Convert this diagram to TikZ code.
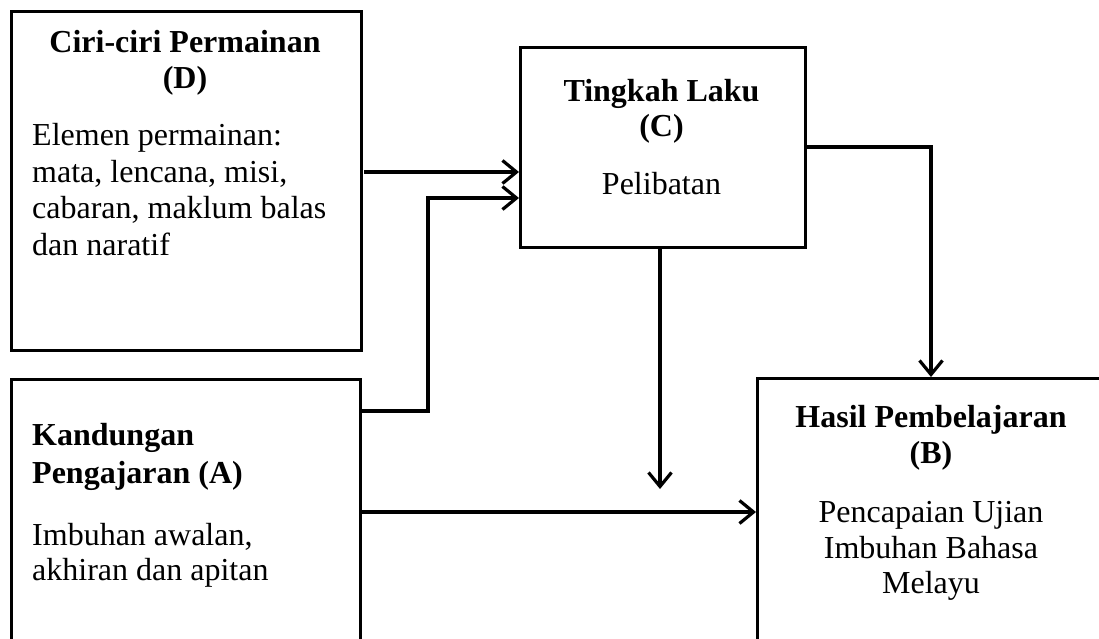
\documentclass[tikz,border=0pt]{standalone}
\usepackage{fontspec}
\setmainfont{Liberation Serif}
\usetikzlibrary{arrows.meta}
\begin{document}
\begin{tikzpicture}[x=1pt,y=-1pt,
  box/.style={draw,line width=2.6pt,rectangle,anchor=north west,inner sep=0pt},
  arr/.style={line width=3.2pt,-{Straight Barb[length=14pt,width=23pt,line width=3.2pt]}},
  ttl/.style={font=\fontsize{32}{36}\selectfont\bfseries,inner sep=0pt,anchor=base},
  txt/.style={font=\fontsize{32}{36}\selectfont,inner sep=0pt,anchor=base},
]
\useasboundingbox (0,0) rectangle (1099,638);
\clip (0,0) rectangle (1099,638);

% boxes
\node[box,minimum width=350pt,minimum height=339pt] (D) at (10,10) {};
\node[box,minimum width=285pt,minimum height=200pt] (C) at (519,46) {};
\node[box,minimum width=349pt,minimum height=330pt] (A) at (10,378) {};
\node[box,minimum width=350pt,minimum height=330pt] (B) at (756,377) {};

% texts D
\node[ttl] (Dt1) at (185,52) {Ciri-ciri Permainan};
\node[ttl] (Dt2) at (185,88) {(D)};
\node[txt,anchor=base west] (Db1) at (32,145) {Elemen permainan:};
\node[txt,anchor=base west] (Db2) at (32,182) {mata, lencana, misi,};
\node[txt,anchor=base west] (Db3) at (32,218) {cabaran, maklum balas};
\node[txt,anchor=base west] (Db4) at (32,255) {dan naratif};

% texts C
\node[ttl] (Ct1) at (661.5,101) {Tingkah Laku};
\node[ttl] (Ct2) at (661.5,136) {(C)};
\node[txt] (Cb1) at (661.5,194) {Pelibatan};

% texts A
\node[ttl,anchor=base west] (At1) at (32,445) {Kandungan};
\node[ttl,anchor=base west] (At2) at (32,483) {Pengajaran (A)};
\node[txt,anchor=base west] (Ab1) at (32,545) {Imbuhan awalan,};
\node[txt,anchor=base west] (Ab2) at (32,580) {akhiran dan apitan};

% texts B
\node[ttl] (Bt1) at (931,427) {Hasil Pembelajaran};
\node[ttl] (Bt2) at (931,463) {(B)};
\node[txt] (Bb1) at (931,522) {Pencapaian Ujian};
\node[txt] (Bb2) at (931,558) {Imbuhan Bahasa};
\node[txt] (Bb3) at (931,593) {Melayu};

% connectors
\coordinate (d1) at (364,172);
\coordinate (ac) at (428,198);
\coordinate (cd) at (660,489);
\coordinate (bt) at (931,377);
\draw[arr] (d1) -- (d1 -| C.west);
\draw[arr] (A.east |- 0,411) -| (ac) -- (ac -| C.west);
\draw[arr] (cd |- C.south) -- (cd);
\draw[arr] (A.east |- 0,512) -- (B.west |- 0,512);
\draw[arr] (C.east |- 0,147) -| (bt);
\end{tikzpicture}
\end{document}
